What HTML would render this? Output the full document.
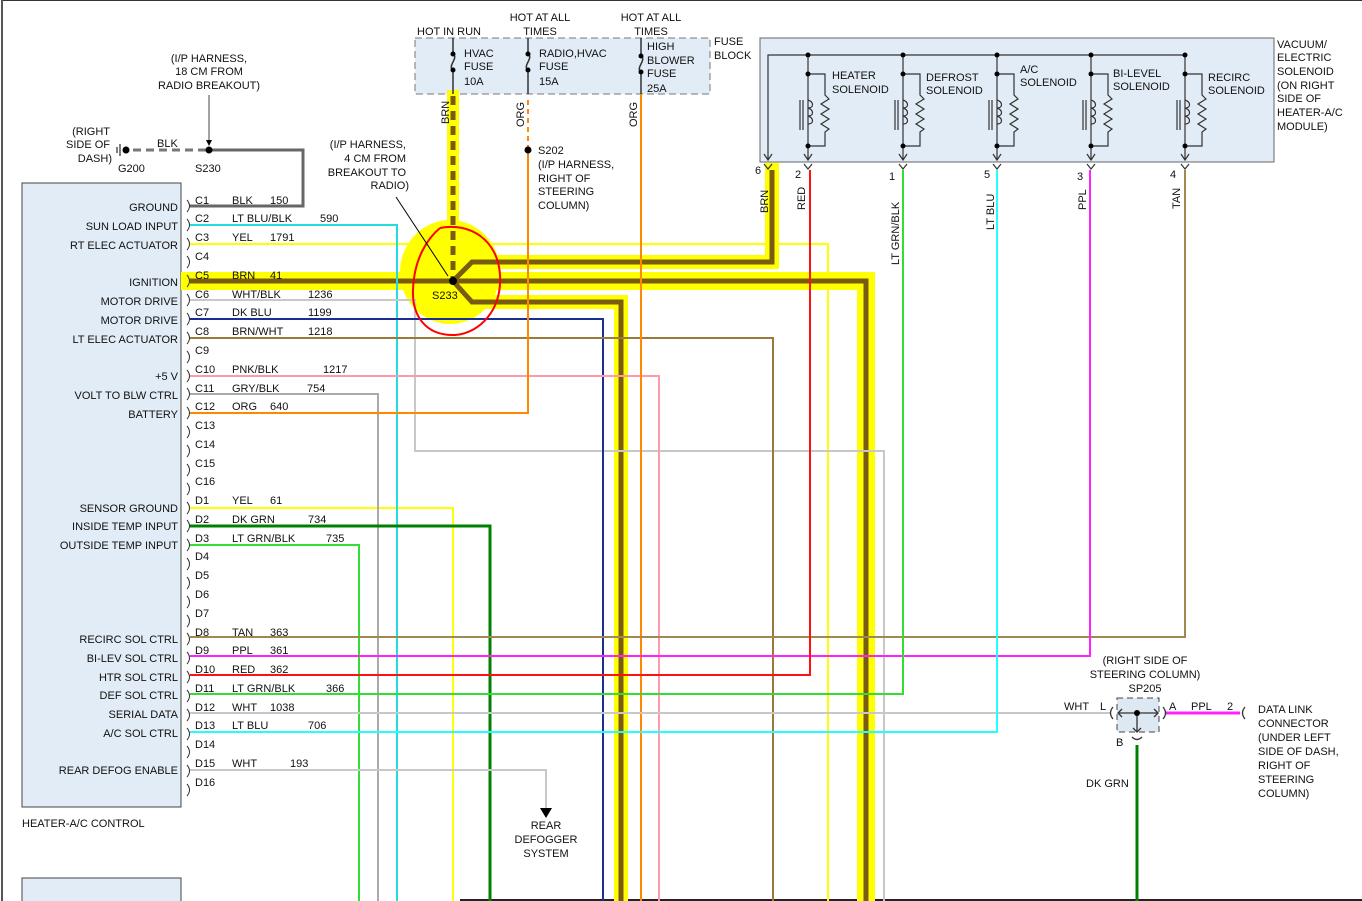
<!DOCTYPE html>
<html><head><meta charset="utf-8"><style>
html,body{margin:0;padding:0;background:#fff;}
svg{display:block;font-family:"Liberation Sans",Arial,sans-serif;font-size:11px;}
</style></head><body>
<svg width="1362" height="901" viewBox="0 0 1362 901" xmlns="http://www.w3.org/2000/svg">
<rect width="1362" height="901" fill="#fff"/>
<line x1="1" y1="0" x2="1362" y2="0" stroke="#333" stroke-width="2"/>
<line x1="2" y1="0" x2="2" y2="901" stroke="#555" stroke-width="2"/>
<line x1="460" y1="900" x2="1362" y2="900" stroke="#222" stroke-width="2"/>

<rect x="22" y="183" width="159" height="624" fill="#e2ecf6" stroke="#444"/>
<rect x="22" y="878" width="159" height="30" fill="#e2ecf6" stroke="#444"/>
<rect x="415" y="38" width="295" height="56" fill="#e2ecf6" stroke="#777" stroke-dasharray="7,4"/>
<rect x="760" y="38" width="514" height="124" fill="#e2ecf6" stroke="#666"/>

<ellipse cx="450" cy="272" rx="50" ry="52" fill="#ffff00"/>
<g fill="none" stroke="#ffff00" stroke-linecap="square">
<line x1="453" y1="96" x2="453" y2="281" stroke-width="12"/>
<polyline points="190,281 866,281 866,901" stroke-width="18"/>
<polyline points="468,262 772,262 772,170" stroke-width="14"/>
<polyline points="468,302 621,302 621,901" stroke-width="14"/>
</g>
<g fill="none" stroke-width="2">
<polyline points="190,244 828,244 828,901" stroke="#ffff00"/>
<polyline points="190,508 453,508 453,901" stroke="#ffff00"/>
</g>
<g fill="none" stroke="#7a5c10" stroke-width="5">
<line x1="453" y1="96" x2="453" y2="281" stroke-dasharray="9,6"/>
<polyline points="190,281 866,281 866,901"/>
<polyline points="453,281 472,262 772,262 772,170"/>
<polyline points="453,281 472,302 621,302 621,901"/>
</g>
<g fill="none" stroke-width="2">
<polyline points="190,206 303,206 303,150 212,150" stroke="#666" stroke-width="3"/>
<line x1="206" y1="150" x2="128" y2="150" stroke="#777" stroke-width="3" stroke-dasharray="8,5"/>
<polyline points="190,225 397,225 397,901" stroke="#22dddd"/>
<polyline points="190,300 415,300 415,451 884,451 884,901" stroke="#c8c8c8"/>
<polyline points="190,319 603,319 603,901" stroke="#1a3090"/>
<polyline points="190,338 773,338 773,901" stroke="#9a7a3a"/>
<polyline points="190,376 659,376 659,901" stroke="#ff9aaa"/>
<polyline points="190,394 378,394 378,901" stroke="#aaa"/>
<polyline points="190,413 528,413 528,150" stroke="#ff8800"/>
<line x1="528" y1="150" x2="528" y2="96" stroke="#ff8800" stroke-dasharray="5,4"/>
<line x1="641" y1="94" x2="641" y2="901" stroke="#ff8800"/>
<polyline points="190,526 490,526 490,901" stroke="#008000" stroke-width="3"/>
<polyline points="190,545 359,545 359,901" stroke="#33dd33"/>
<polyline points="190,637 1185,637 1185,170" stroke="#a08850"/>
<polyline points="190,656 1090,656 1090,170" stroke="#ff22ff"/>
<polyline points="190,675 810,675 810,170" stroke="#ff1111"/>
<polyline points="190,694 903,694 903,170" stroke="#33dd33"/>
<polyline points="190,713 1110,713" stroke="#c8c8c8"/>
<polyline points="190,732 997,732 997,170" stroke="#22ffff"/>
<polyline points="190,770 546,770 546,808" stroke="#c8c8c8"/>
<line x1="1166" y1="713" x2="1240" y2="713" stroke="#ff22ff" stroke-width="3"/>
<line x1="1137" y1="745" x2="1137" y2="901" stroke="#008000" stroke-width="3"/>
</g>
<polygon points="540,808 552,808 546,818" fill="#000"/>

<path d="M440,228 C470,222 498,240 500,275 C502,310 480,333 455,335 C425,336 412,315 413,290 C414,258 428,238 440,228" fill="none" stroke="#ff0000" stroke-width="2"/>
<circle cx="453" cy="281" r="4" fill="#000"/>
<line x1="396" y1="197" x2="448" y2="276" stroke="#000"/>
<circle cx="528" cy="150" r="3.5" fill="#000"/>
<circle cx="209" cy="150" r="3.5" fill="#000"/>
<line x1="209" y1="95" x2="209" y2="140" stroke="#444"/>
<polygon points="206,140 212,140 209,146" fill="#000"/>
<circle cx="126" cy="150" r="3.5" fill="#000"/>
<line x1="120" y1="144" x2="120" y2="156" stroke="#000"/><line x1="117" y1="147" x2="117" y2="153" stroke="#000"/>

<g fill="none" stroke="#333" stroke-width="1.5">
<path d="M453,38 V54 C459,58 447,66 453,70 V94"/>
<path d="M528,38 V54 C534,58 522,66 528,70 V94"/>
<path d="M641,38 V56 C647,60 635,68 641,72 V94"/>
</g>
<g fill="#000"><circle cx="453" cy="54" r="2.5"/><circle cx="453" cy="70" r="2.5"/><circle cx="528" cy="54" r="2.5"/><circle cx="528" cy="70" r="2.5"/><circle cx="641" cy="56" r="2.5"/><circle cx="641" cy="72" r="2.5"/></g>

<g fill="none" stroke="#333" stroke-width="1.2">
<polyline points="768,160 768,55 1185,55"/>
<path d="M764,154 L768,160 L772,154"/>
<g id="sol">
<line x1="808" y1="55" x2="808" y2="160"/>
<polyline points="808,74 825,74 825,95 829,99 821,104 829,109 821,114 829,119 821,124 829,129 825,132 825,146 808,146"/>
<path d="M808,100 c6,2 6,8 0,8 c6,2 6,8 0,8 c6,2 6,8 0,8"/>
<line x1="800" y1="100" x2="800" y2="130"/><line x1="803" y1="100" x2="803" y2="130"/>
<path d="M804,154 L808,160 L812,154"/>
<path d="M804,164 L808,169 L812,164"/>
</g>
<use href="#sol" x="95"/><use href="#sol" x="189"/><use href="#sol" x="283"/><use href="#sol" x="377"/>
<path d="M764,164 L768,169 L772,164"/>
</g>
<g fill="#000">
<circle cx="808" cy="55" r="2.5"/><circle cx="808" cy="74" r="2.5"/><circle cx="808" cy="146" r="2.5"/>
<circle cx="903" cy="55" r="2.5"/><circle cx="903" cy="74" r="2.5"/><circle cx="903" cy="146" r="2.5"/>
<circle cx="997" cy="55" r="2.5"/><circle cx="997" cy="74" r="2.5"/><circle cx="997" cy="146" r="2.5"/>
<circle cx="1091" cy="55" r="2.5"/><circle cx="1091" cy="74" r="2.5"/><circle cx="1091" cy="146" r="2.5"/>
<circle cx="1185" cy="55" r="2.5"/><circle cx="1185" cy="74" r="2.5"/><circle cx="1185" cy="146" r="2.5"/>
</g>

<rect x="1117" y="698" width="42" height="34" fill="#dde8f3" stroke="#444" stroke-dasharray="6,4"/>
<g stroke="#333" fill="none" stroke-width="1.3">
<line x1="1118" y1="713" x2="1158" y2="713"/><line x1="1137" y1="713" x2="1137" y2="732"/>
<path d="M1122,709 L1118,713 L1122,717 M1154,709 L1158,713 L1154,717 M1133,728 L1137,732 L1141,728"/>
<path d="M1113,707 Q1108,713 1113,719 M1163,707 Q1168,713 1163,719 M1245,707 Q1240,713 1245,719 M1132,737 Q1137,742 1142,737"/>
</g>
<circle cx="1137" cy="713" r="3" fill="#000"/>

<g fill="none" stroke="#333" stroke-width="1">
<path d="M187,200q5,6 0,12M187,219q5,6 0,12M187,238q5,6 0,12M187,256q5,6 0,12M187,275q5,6 0,12M187,294q5,6 0,12M187,313q5,6 0,12M187,332q5,6 0,12M187,351q5,6 0,12M187,370q5,6 0,12M187,388q5,6 0,12M187,407q5,6 0,12M187,426q5,6 0,12M187,445q5,6 0,12M187,464q5,6 0,12M187,483q5,6 0,12M187,502q5,6 0,12M187,520q5,6 0,12M187,539q5,6 0,12M187,558q5,6 0,12M187,577q5,6 0,12M187,596q5,6 0,12M187,615q5,6 0,12M187,633q5,6 0,12M187,652q5,6 0,12M187,671q5,6 0,12M187,690q5,6 0,12M187,709q5,6 0,12M187,728q5,6 0,12M187,746q5,6 0,12M187,765q5,6 0,12M187,784q5,6 0,12"/>
</g>

<g fill="#111">
<g text-anchor="end">
<text x="178" y="211">GROUND</text><text x="178" y="230">SUN LOAD INPUT</text><text x="178" y="249">RT ELEC ACTUATOR</text>
<text x="178" y="286">IGNITION</text><text x="178" y="305">MOTOR DRIVE</text><text x="178" y="324">MOTOR DRIVE</text>
<text x="178" y="343">LT ELEC ACTUATOR</text><text x="178" y="380">+5 V</text><text x="178" y="399">VOLT TO BLW CTRL</text>
<text x="178" y="418">BATTERY</text><text x="178" y="512">SENSOR GROUND</text><text x="178" y="530">INSIDE TEMP INPUT</text>
<text x="178" y="549">OUTSIDE TEMP INPUT</text><text x="178" y="643">RECIRC SOL CTRL</text><text x="178" y="662">BI-LEV SOL CTRL</text>
<text x="178" y="681">HTR SOL CTRL</text><text x="178" y="699">DEF SOL CTRL</text><text x="178" y="718">SERIAL DATA</text>
<text x="178" y="737">A/C SOL CTRL</text><text x="178" y="774">REAR DEFOG ENABLE</text>
<text x="110" y="135">(RIGHT</text><text x="110" y="148">SIDE OF</text><text x="112" y="162">DASH)</text>
<text x="406" y="148">(I/P HARNESS,</text><text x="406" y="162">4 CM FROM</text><text x="406" y="176">BREAKOUT TO</text><text x="409" y="189">RADIO)</text>
</g>
<text x="22" y="827">HEATER-A/C CONTROL</text>
<g>
<text x="195" y="204">C1</text><text x="195" y="222">C2</text><text x="195" y="241">C3</text><text x="195" y="260">C4</text><text x="195" y="279">C5</text><text x="195" y="298">C6</text><text x="195" y="316">C7</text><text x="195" y="335">C8</text><text x="195" y="354">C9</text><text x="195" y="373">C10</text><text x="195" y="392">C11</text><text x="195" y="410">C12</text><text x="195" y="429">C13</text><text x="195" y="448">C14</text><text x="195" y="467">C15</text><text x="195" y="485">C16</text>
<text x="195" y="504">D1</text><text x="195" y="523">D2</text><text x="195" y="542">D3</text><text x="195" y="560">D4</text><text x="195" y="579">D5</text><text x="195" y="598">D6</text><text x="195" y="617">D7</text><text x="195" y="636">D8</text><text x="195" y="654">D9</text><text x="195" y="673">D10</text><text x="195" y="692">D11</text><text x="195" y="711">D12</text><text x="195" y="729">D13</text><text x="195" y="748">D14</text><text x="195" y="767">D15</text><text x="195" y="786">D16</text>
</g>
<g>
<text x="232" y="204">BLK</text><text x="270" y="204">150</text>
<text x="232" y="222">LT BLU/BLK</text><text x="320" y="222">590</text>
<text x="232" y="241">YEL</text><text x="270" y="241">1791</text>
<text x="232" y="279">BRN</text><text x="270" y="279">41</text>
<text x="232" y="298">WHT/BLK</text><text x="308" y="298">1236</text>
<text x="232" y="316">DK BLU</text><text x="308" y="316">1199</text>
<text x="232" y="335">BRN/WHT</text><text x="308" y="335">1218</text>
<text x="232" y="373">PNK/BLK</text><text x="323" y="373">1217</text>
<text x="232" y="392">GRY/BLK</text><text x="307" y="392">754</text>
<text x="232" y="410">ORG</text><text x="270" y="410">640</text>
<text x="232" y="504">YEL</text><text x="270" y="504">61</text>
<text x="232" y="523">DK GRN</text><text x="308" y="523">734</text>
<text x="232" y="542">LT GRN/BLK</text><text x="326" y="542">735</text>
<text x="232" y="636">TAN</text><text x="270" y="636">363</text>
<text x="232" y="654">PPL</text><text x="270" y="654">361</text>
<text x="232" y="673">RED</text><text x="270" y="673">362</text>
<text x="232" y="692">LT GRN/BLK</text><text x="326" y="692">366</text>
<text x="232" y="711">WHT</text><text x="270" y="711">1038</text>
<text x="232" y="729">LT BLU</text><text x="308" y="729">706</text>
<text x="232" y="767">WHT</text><text x="290" y="767">193</text>
</g>
<g text-anchor="middle">
<text x="209" y="62">(I/P HARNESS,</text><text x="209" y="75">18 CM FROM</text><text x="209" y="89">RADIO BREAKOUT)</text>
<text x="546" y="829">REAR</text><text x="546" y="843">DEFOGGER</text><text x="546" y="857">SYSTEM</text>
<text x="540" y="21">HOT AT ALL</text><text x="540" y="35">TIMES</text>
<text x="651" y="21">HOT AT ALL</text><text x="651" y="35">TIMES</text>
<text x="1145" y="664">(RIGHT SIDE OF</text><text x="1145" y="678">STEERING COLUMN)</text>
<text x="1145" y="692">SP205</text>
</g>
<text x="118" y="172">G200</text><text x="195" y="172">S230</text><text x="157" y="147">BLK</text>
<text x="417" y="35">HOT IN RUN</text>
<text x="464" y="57">HVAC</text><text x="464" y="70">FUSE</text><text x="464" y="85">10A</text>
<text x="539" y="57">RADIO,HVAC</text><text x="539" y="70">FUSE</text><text x="539" y="85">15A</text>
<text x="647" y="50">HIGH</text><text x="647" y="64">BLOWER</text><text x="647" y="77">FUSE</text><text x="647" y="92">25A</text>
<text x="714" y="45">FUSE</text><text x="714" y="59">BLOCK</text>
<text x="538" y="154">S202</text><text x="538" y="168">(I/P HARNESS,</text><text x="538" y="182">RIGHT OF</text><text x="538" y="195">STEERING</text><text x="538" y="209">COLUMN)</text>
<text x="432" y="299">S233</text>
<text x="832" y="79">HEATER</text><text x="832" y="93">SOLENOID</text>
<text x="926" y="81">DEFROST</text><text x="926" y="94">SOLENOID</text>
<text x="1020" y="73">A/C</text><text x="1020" y="86">SOLENOID</text>
<text x="1113" y="77">BI-LEVEL</text><text x="1113" y="90">SOLENOID</text>
<text x="1208" y="81">RECIRC</text><text x="1208" y="94">SOLENOID</text>
<text x="1277" y="48">VACUUM/</text><text x="1277" y="61">ELECTRIC</text><text x="1277" y="75">SOLENOID</text><text x="1277" y="89">(ON RIGHT</text><text x="1277" y="102">SIDE OF</text><text x="1277" y="116">HEATER-A/C</text><text x="1277" y="130">MODULE)</text>
<text x="755" y="174">6</text><text x="795" y="178">2</text><text x="889" y="180">1</text><text x="984" y="178">5</text><text x="1077" y="180">3</text><text x="1170" y="178">4</text>
<text x="1064" y="710">WHT</text><text x="1100" y="710">L</text><text x="1169" y="710">A</text><text x="1191" y="710">PPL</text><text x="1227" y="710">2</text>
<text x="1116" y="746">B</text><text x="1086" y="787">DK GRN</text>
<text x="1258" y="713">DATA LINK</text><text x="1258" y="727">CONNECTOR</text><text x="1258" y="741">(UNDER LEFT</text><text x="1258" y="755">SIDE OF DASH,</text><text x="1258" y="769">RIGHT OF</text><text x="1258" y="783">STEERING</text><text x="1258" y="797">COLUMN)</text>
<g>
<text transform="translate(449,124) rotate(-90)">BRN</text>
<text transform="translate(524,127) rotate(-90)">ORG</text>
<text transform="translate(637,127) rotate(-90)">ORG</text>
<text transform="translate(768,213) rotate(-90)">BRN</text>
<text transform="translate(805,210) rotate(-90)">RED</text>
<text transform="translate(899,265) rotate(-90)">LT GRN/BLK</text>
<text transform="translate(994,230) rotate(-90)">LT BLU</text>
<text transform="translate(1086,210) rotate(-90)">PPL</text>
<text transform="translate(1180,209) rotate(-90)">TAN</text>
</g>
</g>
</svg>
</body></html>
